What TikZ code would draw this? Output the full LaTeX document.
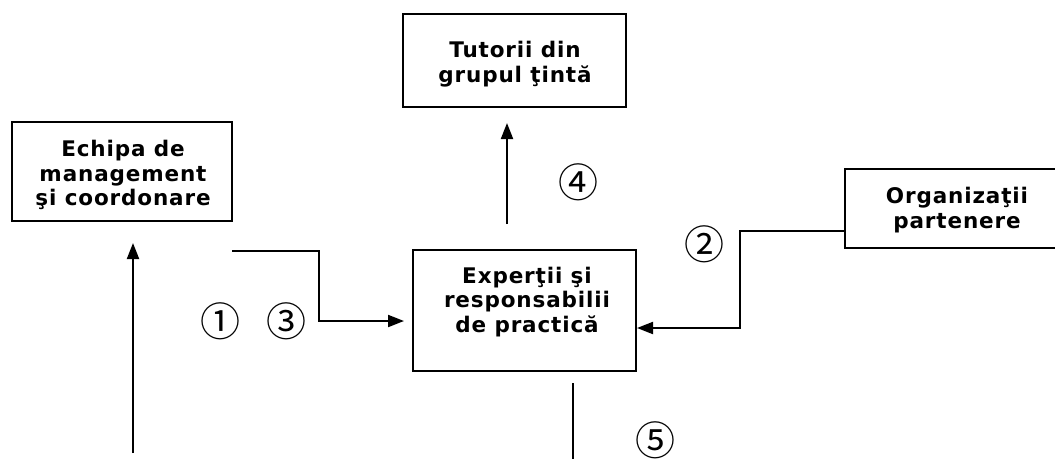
\documentclass[tikz,border=0pt]{standalone}
\usepackage{fontspec}
\setmainfont{DejaVu Sans}
\newfontfamily\boxfont[LetterSpace=4]{DejaVu Sans}
\newfontfamily\circfont{Noto Sans CJK JP}
\usetikzlibrary{arrows.meta}
\begin{document}
\begin{tikzpicture}[x=1pt,y=-1pt,
  boxnode/.style={draw,line width=2pt,inner sep=0pt},
  boxtext/.style={align=center,font=\boxfont\fontsize{21.5}{24.5}\selectfont\bfseries,inner sep=0pt},
  conn/.style={line width=2pt},
  arr/.style={conn,-{Triangle[length=16pt,width=12pt]}},
  num/.style={font=\circfont\fontsize{40}{40}\selectfont,inner sep=0pt}]
\useasboundingbox (0,0) rectangle (1055,475);
% boxes
\node[boxnode,minimum width=220pt,minimum height=99pt] (echipa) at (122,171.5) {};
\node[boxtext] (echipaT) at (123,175) {Echipa de\\management\\şi coordonare};
\node[boxnode,minimum width=223pt,minimum height=93pt] (tutorii) at (514.5,60.5) {};
\node[boxtext] (tutoriiT) at (515,64) {Tutorii din\\grupul ţintă};
\node[boxnode,minimum width=223pt,minimum height=121pt] (exp) at (524.5,310.5) {};
\node[boxtext] (expT) at (527,302) {Experţii şi\\responsabilii\\de practică};
\node[boxnode,minimum width=215pt,minimum height=79pt] (org) at (952.5,208.5) {};
\node[boxtext] (orgT) at (957,210) {Organizaţii\\partenere};
% coordinates for free ends
\coordinate (a1s) at (133,453);
\coordinate (a1e) at (133,243);
\coordinate (a3s) at (232,251);
\coordinate (a3k) at (319,251);
\coordinate (a3e) at (404,321);
\coordinate (a4s) at (507,224);
\coordinate (a4e) at (507,123);
\coordinate (a5s) at (573,383);
\coordinate (a5e) at (573,459);
\coordinate (a2k) at (740,231);
% connectors
\draw[arr] (a1s) -- (a1e);
\draw[arr] (a3s) -- (a3k) |- (a3e);
\draw[arr] (a4s) -- (a4e);
\draw[conn] (a5s) -- (a5e);
\draw[arr] (org.west |- a2k) -- (a2k) |- (exp.east |- 0,328);
% numbers
\node[num] (n1) at (220.5,321) {①};
\node[num] (n3) at (286,321) {③};
\node[num] (n2) at (704,244) {②};
\node[num] (n4) at (578,182) {④};
\node[num] (n5) at (655,440) {⑤};
\end{tikzpicture}
\end{document}
